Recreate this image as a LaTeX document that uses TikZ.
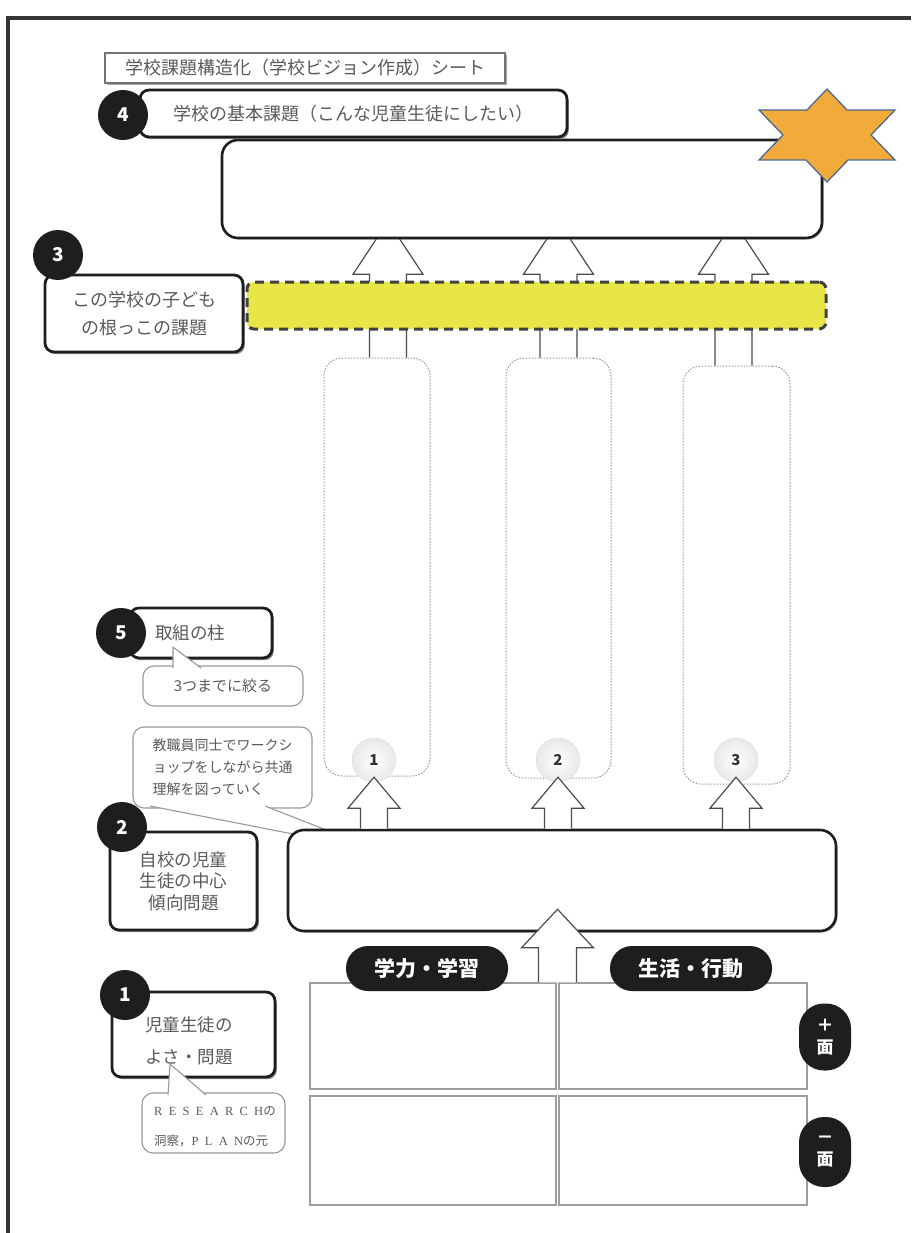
\documentclass[tikz,border=0pt]{standalone}
\usepackage{fontspec}
\setmainfont{Noto Sans CJK JP}
\newfontfamily\lser{Liberation Serif}[LetterSpace=50]
\usetikzlibrary{shadows,calc}
\pgfdeclarelayer{back}
\pgfdeclarelayer{mid}
\pgfsetlayers{back,mid,main}
\definecolor{starfill}{HTML}{F2AB3A}
\definecolor{starline}{HTML}{4A6A90}
\definecolor{bandfill}{HTML}{E8E646}
\definecolor{txt}{HTML}{5A5A5A}
\definecolor{ink}{HTML}{1E1E1E}
\newcommand\fs[2]{\fontsize{#1}{#2}\selectfont}
% block arrow: #1 start (bottom), #2 target reference, #3 shaft half width, #4 head half width, #5 head base offset, #6 tip offset
\newcommand\blockarr[6]{%
  \draw[barrow] let \p1=(#1), \p2=(#2) in
   (\x2-#3,\y1) -- (\x2-#3,\y2+#5) -- (\x2-#4,\y2+#5) -- (\x2,\y2+#6)
   -- (\x2+#4,\y2+#5) -- (\x2+#3,\y2+#5) -- (\x2+#3,\y1);}
\tikzset{
 frame/.style={draw=ink!90, line width=3.5pt},
 titlebox/.style={draw=black!55, line width=1.2pt, fill=white, drop shadow={shadow xshift=2pt,shadow yshift=-2pt,fill=black!35,opacity=1}, text=txt, font=\fs{18}{20}, inner sep=0pt},
 lbox/.style={draw=ink, line width=2.8pt, rounded corners=9pt, fill=white, drop shadow={shadow xshift=1.8pt,shadow yshift=-2.2pt,fill=black!45,opacity=1}, text=txt, align=center, inner sep=0pt},
 mainbox/.style={draw=ink, line width=2.6pt, rounded corners=16pt, fill=white, drop shadow={shadow xshift=1.5pt,shadow yshift=-1.5pt,fill=black!35,opacity=1}},
 bandbox/.style={fill=bandfill, draw=black!75, line width=3pt, dash pattern=on 9pt off 6pt, rounded corners=7pt},
 tallbox/.style={draw=black!40, line width=1pt, dash pattern=on 1.5pt off 1.5pt, rounded corners=18pt},
 badge/.style={circle, fill=ink, text=white, font=\bfseries\fs{19}{19}, minimum size=50pt, inner sep=0pt},
 ball/.style={circle, minimum size=44pt, inner sep=0pt, inner color=white, outer color=black!9, draw=black!12, font=\bfseries\fs{15}{15}, text=black!80},
 barrow/.style={draw=black!70, line width=1.2pt, fill=white, line join=miter},
 bubble/.style={draw=black!40, line width=1.1pt, rounded corners=11pt, fill=white, text=txt, align=left, inner sep=0pt},
 tailline/.style={draw=black!40, line width=1.1pt, line join=round},
 pill/.style={fill=ink, text=white, font=\bfseries\fs{21}{21}, minimum width=162pt, minimum height=45pt, rounded corners=22pt, inner sep=0pt},
 sidepill/.style={fill=ink, text=white, font=\bfseries\fs{17}{22}, minimum width=52pt, rounded corners=25pt, align=center, inner sep=0pt},
 cell/.style={draw=black!38, line width=1.5pt, fill=white, drop shadow={shadow xshift=1.2pt,shadow yshift=-1.2pt,fill=black!15,opacity=1}},
 star6/.style={fill=starfill, draw=starline, line width=1.3pt, line join=miter},
 lbl/.style={text=txt, align=center, inner sep=0pt}
}
\begin{document}
\begin{tikzpicture}[x=1pt,y=-1pt]
\begin{pgfonlayer}{back}
\fill[white] (0,0) rectangle (911,1233);
\end{pgfonlayer}
\useasboundingbox (0,0) rectangle (911,1233);

% page frame
\draw[frame] (8,1233) -- (8,18) -- (911,18);

% title
\node[titlebox, minimum width=400pt, minimum height=30pt] (title) at (305,68) {学校課題構造化（学校ビジョン作成）シート};

% top box (4) and star
\node[mainbox, minimum width=600pt, minimum height=98pt] (top) at (522,189) {};
\draw[star6] (827,89) -- (847,110) -- (895,110) -- (871,135) -- (895,160) -- (848,160)
  -- (827,182) -- (806,160) -- (759,160) -- (783,135) -- (759,110) -- (807,110) -- cycle;

\node[lbox, minimum width=427pt, minimum height=47pt, font=\fs{18}{20}] (b4) at (353.5,113.5) {学校の基本課題（こんな児童生徒にしたい）};
\node[badge] (n4) at (123,115) {4};

% tall pillar boxes
\node[tallbox, minimum width=106pt, minimum height=418pt] (t1) at (377,567) {};
\node[tallbox, minimum width=105pt, minimum height=420pt] (t2) at (558.5,568) {};
\node[tallbox, minimum width=107pt, minimum height=418pt] (t3) at (736.5,575) {};

% arrows from pillars up to the top box (behind band and top box)
\path (t1.north |- top.south) ++(11,0) coordinate (u1);
\path (t2.north |- top.south) coordinate (u2);
\path (t3.north |- top.south) ++(-3,0) coordinate (u3);
\begin{pgfonlayer}{mid}
\blockarr{t1.north}{u1}{18.5pt}{35pt}{-35pt}{18pt}
\blockarr{t2.north}{u2}{18.5pt}{35pt}{-35pt}{18pt}
\blockarr{t3.north}{u3}{18.5pt}{35pt}{-35pt}{18pt}
\end{pgfonlayer}

% yellow band (3)
\node[bandbox, minimum width=579pt, minimum height=47pt] (band) at (536.5,305.5) {};

% label 3
\node[lbox, minimum width=198pt, minimum height=77pt, font=\fs{18}{28}] (b3) at (144,313.5) {この学校の子ども\\の根っこの課題};
\node[badge] (n3) at (58,255) {3};

% numbered balls
\node[ball] (c1) at (374,760) {1};
\node[ball] (c2) at (558,760) {2};
\node[ball] (c3) at (736,760) {3};

% callout for 2
\node[bubble, minimum width=179pt, minimum height=81pt, font=\fs{14}{22}] (cb2) at (222.5,767.5) {教職員同士でワークシ\\ョップをしながら共通\\理解を図っていく};
\coordinate (cb2a) at (150,806);
\coordinate (cb2b) at (265,806);
\coordinate (cb2t) at (380,851);
\fill[white] (cb2a) -- (cb2t) -- (cb2b) -- cycle;
\draw[tailline] (cb2a) -- (cb2t) -- (cb2b);

% box 2
\node[mainbox, minimum width=548pt, minimum height=101pt] (b2) at (562,880.5) {};

% arrows from box 2 to the balls
\blockarr{b2.north}{c1.south}{13.5pt}{26pt}{-26pt}{5pt}
\blockarr{b2.north}{c2.south}{13.5pt}{26pt}{-26pt}{5pt}
\blockarr{b2.north}{c3.south}{13.5pt}{26pt}{-26pt}{5pt}

% label 2
\node[lbox, minimum width=147pt, minimum height=98pt, font=\fs{17.5}{21.5}] (b2l) at (183.5,881) {自校の児童\\生徒の中心\\傾向問題};
\node[badge] (n2) at (122,827) {2};

% label 5 and its bubble
\node[lbox, minimum width=142pt, minimum height=50pt] (b5) at (201,633) {};
\node[lbl, font=\fs{17.5}{20}] (b5t) at (190,633) {取組の柱};
\node[badge] (n5) at (121,633) {5};
\node[bubble, minimum width=160pt, minimum height=40pt, font=\fs{15}{18}] (cb5) at (223,686) {3つまでに絞る};
\coordinate (cb5a) at (173,668);
\coordinate (cb5b) at (201,668);
\coordinate (cb5t) at (173,647);
\fill[white] (cb5a) -- (cb5t) -- (cb5b) -- cycle;
\draw[tailline] (cb5a) -- (cb5t) -- (cb5b);

% table cells
\node[cell, minimum width=246pt, minimum height=106pt] (cL1) at (433,1036) {};
\node[cell, minimum width=248pt, minimum height=106pt] (cR1) at (683,1036) {};
\node[cell, minimum width=246pt, minimum height=109pt] (cL2) at (433,1150.5) {};
\node[cell, minimum width=248pt, minimum height=109pt] (cR2) at (683,1150.5) {};

% big arrow from table to box 2
\path ($(cL1.north east)!0.5!(cR1.north west)$) coordinate (tmid);
\path (tmid |- b2.south) coordinate (tb);
\blockarr{tmid}{tb}{19pt}{36pt}{-15.5pt}{23pt}

% column heads
\node[pill] (p1) at (427,968.5) {学力・学習};
\node[pill] (p2) at (691,968.5) {生活・行動};

% row heads
\node[sidepill, minimum height=67pt] (sp) at (825,1037) {＋\\面};
\node[sidepill, minimum height=70pt] (sm) at (825,1152) {－\\面};

% label 1 and its bubble
\node[lbox, minimum width=163pt, minimum height=85pt] (b1) at (193.5,1034.5) {};
\node[lbl, font=\fs{17.5}{32}] (b1t) at (189,1041) {児童生徒の\\よさ・問題};
\node[badge] (n1) at (125,995) {1};
\node[bubble, minimum width=143pt, minimum height=60pt] (cb1) at (213.5,1123) {};
\node[lbl, align=left, font=\fs{12.5}{30}] (cb1t) at (215,1127) {{\lser RESEARCH}の\\洞察，{\lser PLAN}の元};
\coordinate (cb1a) at (168,1095);
\coordinate (cb1b) at (206,1095);
\coordinate (cb1t) at (170,1064);
\fill[white] (cb1a) -- (cb1t) -- (cb1b) -- cycle;
\draw[tailline] (cb1a) -- (cb1t) -- (cb1b);
\end{tikzpicture}
\end{document}
